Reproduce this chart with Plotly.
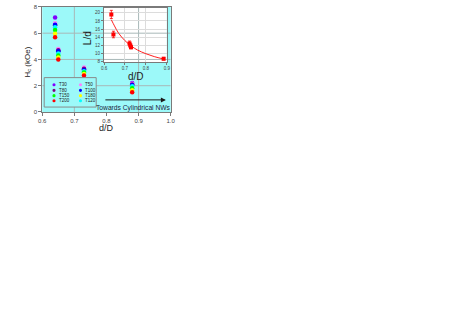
import plotly.graph_objects as go

# ---------------- data ----------------
dD = [0.64, 0.65, 0.73, 0.88]
series_names = ["T30", "T50", "T80", "T100", "T150", "T180", "T200", "T120"]
series_colors = ["#8000ff", "#ff80ff", "#800080", "#0000ff", "#00ff00", "#ffff00", "#ff0000", "#00ffff"]
hc_T30 = [7.2, 4.65, 3.25, 2.2]
hc_T50 = [6.75, 4.8, 3.38, 2.15]
hc_T80 = [6.6, 4.7, 3.3, 2.1]
hc_T100 = [6.65, 4.62, 3.2, 2.05]
hc_T150 = [6.25, 4.3, 3.0, 1.8]
hc_T180 = [5.95, 4.15, 2.9, 1.65]
hc_T200 = [5.7, 4.0, 2.78, 1.5]
hc_T120 = [6.45, 4.45, 3.1, 1.95]
hc_values = [hc_T30, hc_T50, hc_T80, hc_T100, hc_T150, hc_T180, hc_T200, hc_T120]
draw_order = ["T30", "T50", "T80", "T100", "T120", "T150", "T180", "T200"]

inset_x = [0.635, 0.645, 0.722, 0.726, 0.729, 0.885]
inset_y = [19.6, 14.7, 12.5, 12.0, 11.6, 8.8]
inset_err = [1.0, 0.8, 0.6, 0.4, 0.4, 0.3]
fit_x = [0.635, 0.65, 0.67, 0.70, 0.73, 0.76, 0.80, 0.84, 0.885]
fit_y = [18.3, 16.8, 15.0, 13.2, 11.9, 10.9, 10.0, 9.3, 8.7]

main_xticks = [0.6, 0.7, 0.8, 0.9, 1.0]
main_yticks = [0, 2, 4, 6, 8]
inset_xticks = [0.6, 0.7, 0.8, 0.9]
inset_yticks = [8, 10, 12, 14, 16, 18, 20]

# ---------------- layout helpers ----------------
W, H = 463, 328
def px(x):
    return x / W
def py(y):
    return 1 - y / H

FONT = "Arial, Liberation Sans, sans-serif"
CYAN = "#9cf9f9"
AX = "#7a7a7a"

main_dom_x = [px(39), px(170)]
main_dom_y = [py(111), py(4)]
ins_dom_x = [px(102), px(166)]
ins_dom_y = [py(60), py(5)]

fig = go.Figure()

for name in draw_order:
    i = series_names.index(name)
    fig.add_trace(go.Scatter(
        x=dD, y=hc_values[i], mode="markers", name=name,
        marker=dict(color=series_colors[i], size=4.5, line=dict(width=0)),
        xaxis="x", yaxis="y", showlegend=False))

fig.add_trace(go.Scatter(
    x=fit_x, y=fit_y, mode="lines", line=dict(color="#ff2020", width=1, shape="spline"),
    xaxis="x2", yaxis="y2", showlegend=False))
fig.add_trace(go.Scatter(
    x=inset_x, y=inset_y, mode="markers",
    marker=dict(color="#ff0000", size=4, symbol="square"),
    error_y=dict(type="data", array=inset_err, color="#ff0000", thickness=0.8, width=1.5),
    xaxis="x2", yaxis="y2", showlegend=False))

shapes = [
    dict(type="rect", xref="paper", yref="paper", x0=main_dom_x[0], x1=main_dom_x[1],
         y0=main_dom_y[0], y1=main_dom_y[1], fillcolor=CYAN, line=dict(width=0), layer="below"),
]
for gx in [0.7, 0.9]:
    shapes.append(dict(type="line", xref="x", yref="y", x0=gx, x1=gx, y0=0, y1=8,
                       line=dict(color="#a8b8b8", width=1), layer="below"))
for gy in [2, 4, 6]:
    shapes.append(dict(type="line", xref="x", yref="y", x0=0.6, x1=1.0, y0=gy, y1=gy,
                       line=dict(color="#a8b8b8", width=1), layer="below"))
shapes.append(dict(type="rect", xref="paper", yref="paper", x0=ins_dom_x[0], x1=ins_dom_x[1],
                   y0=ins_dom_y[0], y1=ins_dom_y[1], fillcolor="white", line=dict(width=0), layer="below"))
# legend box
shapes.append(dict(type="rect", xref="paper", yref="paper", x0=px(41), x1=px(94),
                   y0=py(106), y1=py(76), fillcolor=CYAN, line=dict(color="#8a8a8a", width=1), layer="above"))

annotations = []
# manual legend: two columns, four rows
row_y = [83.3, 89, 94.4, 99.6]
col_marker_x = [51, 78]
legend_order = ["T30", "T50", "T80", "T100", "T150", "T180", "T200", "T120"]
for k, name in enumerate(legend_order):
    i = series_names.index(name)
    r, c = k // 2, k % 2
    cx, cy = col_marker_x[c], row_y[r]
    shapes.append(dict(type="circle", xref="paper", yref="paper",
                       x0=px(cx - 1.6), x1=px(cx + 1.6), y0=py(cy + 1.6), y1=py(cy - 1.6),
                       fillcolor=series_colors[i], line=dict(width=0), layer="above"))
    annotations.append(dict(xref="paper", yref="paper", x=px(cx + 4), y=py(cy),
                            text=name, showarrow=False, borderpad=0,
                            font=dict(family=FONT, size=4.5, color="#222"),
                            xanchor="left", yanchor="middle"))

# arrow and text
annotations.append(dict(xref="x", yref="y", axref="x", ayref="y", x=0.985, y=0.92, ax=0.792, ay=0.92,
                        text="", showarrow=True, arrowhead=2, arrowsize=1, arrowwidth=1, arrowcolor="#1a1a1a"))
annotations.append(dict(xref="x", yref="y", x=0.885, y=0.32, text="Towards Cylindrical NWs",
                        showarrow=False, font=dict(family=FONT, size=6.7, color="#1c1c3c"),
                        xanchor="center", yanchor="middle"))
# axis titles
annotations.append(dict(xref="paper", yref="paper", x=px(105), y=py(127.5), text="d/D", showarrow=False,
                        font=dict(family=FONT, size=9, color="#222"), xanchor="center", yanchor="middle"))
annotations.append(dict(xref="paper", yref="paper", x=px(24), y=py(60), text="H<sub>c</sub> (kOe)",
                        showarrow=False, textangle=-90,
                        font=dict(family=FONT, size=8, color="#222"), xanchor="center", yanchor="middle"))
annotations.append(dict(xref="paper", yref="paper", x=px(85.5), y=py(36), text="L/d", showarrow=False,
                        textangle=-90, font=dict(family=FONT, size=10, color="#222"),
                        xanchor="center", yanchor="middle"))
annotations.append(dict(xref="paper", yref="paper", x=px(134.5), y=py(75), text="d/D", showarrow=False,
                        font=dict(family=FONT, size=10, color="#222"), xanchor="center", yanchor="middle"))

fig.update_layout(
    width=W, height=H, margin=dict(l=0, r=0, t=0, b=0),
    paper_bgcolor="white", plot_bgcolor="rgba(0,0,0,0)",
    font=dict(family=FONT, color="#333"),
    shapes=shapes, annotations=annotations, showlegend=False,
    xaxis=dict(domain=main_dom_x, range=[0.6, 1.0], tickvals=main_xticks,
               ticktext=[f"{v:.1f}" for v in main_xticks], showgrid=False, zeroline=False,
               showline=True, linecolor=AX, linewidth=1, mirror=True, ticks="outside",
               ticklen=3, tickcolor=AX, tickfont=dict(size=6, color="#444"), anchor="y"),
    yaxis=dict(domain=main_dom_y, range=[0, 8], tickvals=main_yticks, showgrid=False, zeroline=False,
               showline=True, linecolor=AX, linewidth=1, mirror=True, ticks="outside",
               ticklen=3, tickcolor=AX, tickfont=dict(size=6, color="#444"), anchor="x"),
    xaxis2=dict(domain=ins_dom_x, range=[0.6, 0.9], tickvals=inset_xticks,
                ticktext=[f"{v:.1f}" for v in inset_xticks], showgrid=True, gridcolor="#dcdcdc",
                gridwidth=0.6, zeroline=False, showline=True, linecolor=AX, linewidth=1, mirror=True,
                ticks="outside", ticklen=2, tickcolor=AX, tickfont=dict(size=4.5, color="#444"),
                anchor="y2"),
    yaxis2=dict(domain=ins_dom_y, range=[8, 21.2], tickvals=inset_yticks, showgrid=True,
                gridcolor="#dcdcdc", gridwidth=0.6, zeroline=False, showline=True, linecolor=AX,
                linewidth=1, mirror=True, ticks="outside", ticklen=2, tickcolor=AX,
                tickfont=dict(size=4.5, color="#444"), anchor="x2"),
)

fig.write_html("out.html", config={"displayModeBar": False},
               post_script="document.body.style.margin='0px';")
